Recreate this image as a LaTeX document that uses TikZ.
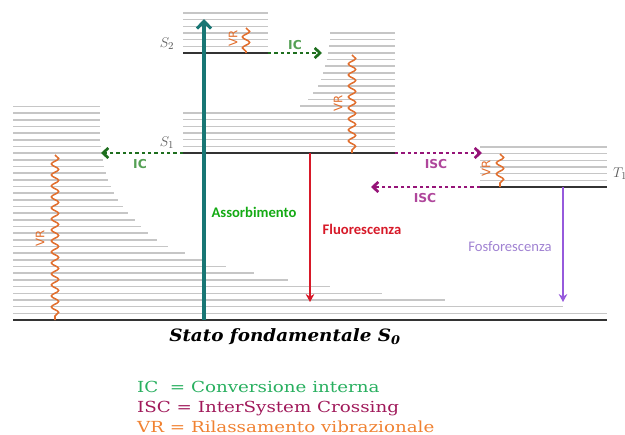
\documentclass[tikz,border=0pt]{standalone}
\usepackage{fontspec}
\newfontfamily\lblfont{Carlito}
\newfontfamily\dvsans{DejaVu Sans}
\newfontfamily\schfont[FakeStretch=1.08]{DejaVu Serif}
\newfontfamily\legfont[FakeStretch=1.2]{DejaVu Serif}
\usetikzlibrary{arrows.meta,decorations.pathmorphing}
\definecolor{absteal}{RGB}{24,118,116}
\definecolor{icgreen}{RGB}{30,110,30}
\definecolor{iclbl}{RGB}{85,160,85}
\definecolor{iscpurple}{RGB}{150,20,120}
\definecolor{isclbl}{RGB}{175,70,155}
\definecolor{vrorange}{RGB}{225,110,45}
\definecolor{fluored}{RGB}{215,25,40}
\definecolor{fosfo}{RGB}{150,90,220}
\definecolor{fosfolbl}{RGB}{160,130,210}
\definecolor{assgreen}{RGB}{20,170,20}
\definecolor{leggreen}{RGB}{40,175,95}
\definecolor{legpurple}{RGB}{160,25,90}
\definecolor{legorange}{RGB}{240,130,50}

\begin{document}
\begin{tikzpicture}[x=0.3mm,y=-0.3mm,>=Stealth,
  lvl/.style={gray!45,line width=1.4pt},
  base/.style={black!80,line width=2.2pt},
  vr/.style={vrorange,line width=1.3pt,decorate,decoration={snake,segment length=3.3mm,amplitude=1.1mm}},
  vrlbl/.style={vrorange,rotate=90,font=\dvsans\fontsize{10}{10}\selectfont},
  ic/.style={icgreen,line width=2.3pt,dash pattern=on 1mm off 0.9mm,-{Straight Barb[length=1.6mm,width=3mm]}},
  isc/.style={iscpurple,line width=2.3pt,dash pattern=on 1mm off 0.9mm,-{Straight Barb[length=1.6mm,width=3mm]}},
  proc/.style={font=\dvsans\bfseries\fontsize{10.5}{10.5}\selectfont},
  rad/.style={font=\lblfont\bfseries\fontsize{12.5}{12.5}\selectfont},
  lvlname/.style={gray!70!black,font=\fontsize{13}{13}\selectfont},
  leg/.style={anchor=base west,font=\legfont\fontsize{13}{13}\selectfont}]
\useasboundingbox (0,0) rectangle (625,434);
\foreach \r [count=\n] in {607,563,445,382,330,288,254,226,205,185,168,157,148,141,135,128,123,118,114,111,108,106,104,103,102,101,100,100,100,100,100,100}
  \draw[lvl] (13,{320-6.67*\n}) -- (\r,{320-6.67*\n});
\foreach \l [count=\n] in {183,183,183,183,183,183,300,308,313,318,321,323,325,327,328,329,330,330}
  \draw[lvl] (\l,{153-6.67*\n}) -- (395,{153-6.67*\n});
\foreach \n in {1,...,6} {
  \draw[lvl] (183,{53-6.67*\n}) -- (268,{53-6.67*\n});
  \draw[lvl] (480,{187-6.67*\n}) -- (607,{187-6.67*\n});
}
\coordinate (s0l) at (13,320);
\coordinate (s0r) at (607,320);
\coordinate (s1l) at (183,153);
\coordinate (s1r) at (395,153);
\coordinate (s2l) at (183,53);
\coordinate (s2r) at (268,53);
\coordinate (t1l) at (480,187);
\coordinate (t1r) at (607,187);
\draw[base] (s0l) -- (s0r);
\draw[base] (s1l) -- (s1r);
\draw[base] (s2l) -- (s2r);
\draw[base] (t1l) -- (t1r);
\node[lvlname] (s2) at (167,44) {$S_2$};
\node[lvlname] (s1) at (167,143) {$S_1$};
\node[lvlname,anchor=west] (t1) at (609,174) {$T_1$};
\coordinate (abs0) at (204,320);
\coordinate (abs1) at (204,19);
\draw[absteal,line width=2.6pt,-{Straight Barb[length=2.2mm,width=4.2mm]}] (abs0) -- (abs1);
\node[rad,assgreen] (ass) at (254,212) {Assorbimento};
\coordinate (fl0) at (310,153);
\coordinate (fl1) at (310,302);
\draw[fluored,line width=1.7pt,-{Stealth[length=2.4mm,width=2.6mm]}] (fl0) -- (fl1);
\node[rad,fluored] (flu) at (362,229) {Fluorescenza};
\coordinate (ph0) at (563,187);
\coordinate (ph1) at (563,302);
\draw[fosfo,line width=1.7pt,-{Stealth[length=2.4mm,width=2.6mm]}] (ph0) -- (ph1);
\node[font=\lblfont\fontsize{12.5}{12.5}\selectfont,fosfolbl] (fos) at (510,247) {Fosforescenza};
\coordinate (ic2) at (322,53);
\coordinate (ic1) at (101,153);
\draw[ic] (s2r) -- (ic2);
\draw[ic] (s1l) -- (ic1);
\node[proc,iclbl] (ic2l) at (295,45) {IC};
\node[proc,iclbl] (ic1l) at (140,164) {IC};
\coordinate (isc1) at (482,153);
\coordinate (isc2) at (371,187);
\draw[isc] (s1r) -- (isc1);
\draw[isc] (t1l) -- (isc2);
\node[proc,isclbl] (isc1l) at (436,164) {ISC};
\node[proc,isclbl] (isc2l) at (425,198) {ISC};
\coordinate (vr0a) at (55,155);
\coordinate (vr0b) at (55,320);
\coordinate (vr1a) at (352,55);
\coordinate (vr1b) at (352,153);
\coordinate (vr2a) at (246,28);
\coordinate (vr2b) at (246,53);
\coordinate (vrta) at (500,154);
\coordinate (vrtb) at (500,187);
\draw[vr] (vr0a) -- (vr0b);
\draw[vr] (vr1a) -- (vr1b);
\draw[vr] (vr2a) -- (vr2b);
\draw[vr] (vrta) -- (vrtb);
\node[vrlbl] (vr0l) at (40,238) {VR};
\node[vrlbl] (vr1l) at (338,103) {VR};
\node[vrlbl] (vr2l) at (233,38) {VR};
\node[vrlbl] (vrtl) at (486,168) {VR};
\node[anchor=base,font=\schfont\bfseries\itshape\fontsize{14.5}{14.5}\selectfont] (s0) at (285,341) {Stato fondamentale S\textsubscript{0}};
\node[leg,leggreen] (leg1) at (133,392) {IC\ \ = Conversione interna};
\node[leg,legpurple] (leg2) at (133,412) {ISC = InterSystem Crossing};
\node[leg,legorange] (leg3) at (133,432) {VR = Rilassamento vibrazionale};
\end{tikzpicture}
\end{document}
